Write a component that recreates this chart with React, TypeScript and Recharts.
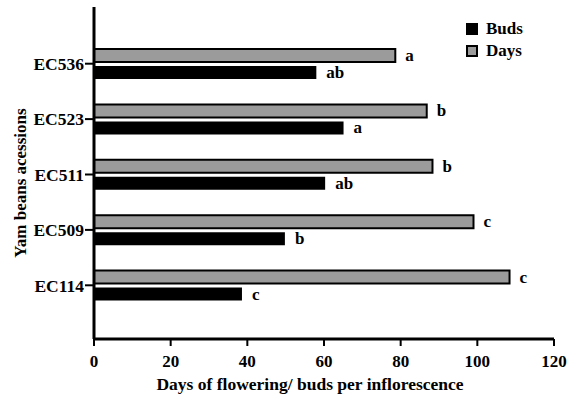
import { BarChart, Bar, XAxis, YAxis, LabelList } from "recharts";

const accessions = ["EC536", "EC523", "EC511", "EC509", "EC114"];
const days = [78.6, 86.8, 88.3, 99.0, 108.4];
const buds = [58.0, 65.1, 60.3, 49.8, 38.6];
const daysLetters = ["a", "b", "b", "c", "c"];
const budsLetters = ["ab", "a", "ab", "b", "c"];
const xTicks = [0, 20, 40, 60, 80, 100, 120];

const data = accessions.map((name, i) => ({ name, days: days[i], buds: buds[i] }));

const FONT = "'Liberation Serif', 'DejaVu Serif'";
const GRAY = "#9b9b9b";
const textStyle = { fontFamily: FONT, fontWeight: "bold" as const };

const letterLabel = (letters: string[]) => (props: any) => {
  const { x, y, width, height, index } = props;
  return (
    <text
      x={Number(x) + Number(width) + 10}
      y={Number(y) + Number(height) / 2}
      dominantBaseline="central"
      style={textStyle}
      fontSize={17}
      fill="#000"
    >
      {letters[index]}
    </text>
  );
};

const LegendBox = () => (
  <div
    style={{ ...textStyle, fontSize: 17, lineHeight: "22px", color: "#000", position: "absolute", left: 466, top: 18 }}
  >
    <div style={{ display: "flex", alignItems: "center" }}>
      <span style={{ width: 12, height: 12, background: "#000", display: "inline-block", marginRight: 8 }} />
      Buds
    </div>
    <div style={{ display: "flex", alignItems: "center" }}>
      <span
        style={{ width: 8, height: 8, background: GRAY, border: "2px solid #000", display: "inline-block", marginRight: 8 }}
      />
      Days
    </div>
  </div>
);

export default function App() {
  return (
    <div style={{ position: "absolute", left: 0, top: 0, width: 578, height: 397, background: "#fff" }}>
      <BarChart
        width={578}
        height={397}
        data={data}
        layout="vertical"
        margin={{ top: 7, right: 24, bottom: 7, left: 14 }}
        barSize={13}
        barGap={4}
      >
        <XAxis
          type="number"
          domain={[0, 120]}
          ticks={xTicks}
          axisLine={{ stroke: "#000", strokeWidth: 3 }}
          tickLine={{ stroke: "#000", strokeWidth: 2 }}
          tickSize={7}
          tickMargin={9}
          height={51}
          tick={{ fill: "#000", style: textStyle, fontSize: 17 }}
          label={{
            value: "Days of flowering/ buds per inflorescence",
            position: "insideBottom",
            dx: -14,
            offset: 0,
            fill: "#000",
            style: textStyle,
            fontSize: 17.5,
          }}
        />
        <YAxis
          type="category"
          dataKey="name"
          width={80}
          padding={{ top: 29, bottom: 26 }}
          axisLine={{ stroke: "#000", strokeWidth: 3 }}
          tickLine={{ stroke: "#000", strokeWidth: 2 }}
          tickSize={9}
          tickMargin={1}
          tick={{ fill: "#000", style: textStyle, fontSize: 17.5 }}
          label={{
            value: "Yam beans acessions",
            angle: -90,
            position: "insideLeft",
            offset: 0,
            dx: 6,
            dy: 10,
            fill: "#000",
            style: { ...textStyle, textAnchor: "middle" },
            fontSize: 17,
          }}
        />
        <Bar dataKey="days" name="Days" fill={GRAY} stroke="#000" strokeWidth={2} isAnimationActive={false}>
          <LabelList dataKey="days" content={letterLabel(daysLetters)} />
        </Bar>
        <Bar dataKey="buds" name="Buds" fill="#000" isAnimationActive={false}>
          <LabelList dataKey="buds" content={letterLabel(budsLetters)} />
        </Bar>
      </BarChart>
      <LegendBox />
    </div>
  );
}
